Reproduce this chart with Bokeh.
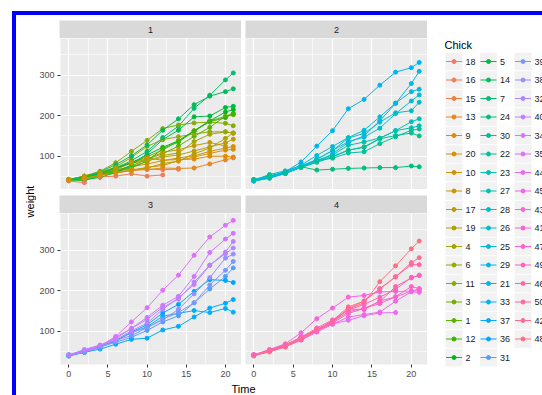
import math
from bokeh.plotting import figure
from bokeh.models import Range1d, LinearAxis, FixedTicker, Grid, Spacer, Div
from bokeh.layouts import row, column
from bokeh.embed import file_html
from bokeh.resources import INLINE
from bokeh.core.properties import value
from bokeh.core.validation import silence
from bokeh.core.validation.warnings import MISSING_RENDERERS

silence(MISSING_RENDERERS, True)

# ---------------- data (ChickWeight) ----------------
times = [0, 2, 4, 6, 8, 10, 12, 14, 16, 18, 20, 21]

diet1_chicks = list(range(1, 21))
diet1_weights = [
    [42, 51, 59, 64, 76, 93, 106, 125, 149, 171, 199, 205],
    [40, 49, 58, 72, 84, 103, 122, 138, 162, 187, 209, 215],
    [43, 39, 55, 67, 84, 99, 115, 138, 163, 187, 198, 202],
    [42, 49, 56, 67, 74, 87, 102, 108, 136, 154, 160, 157],
    [41, 42, 48, 60, 79, 106, 141, 164, 197, 199, 220, 223],
    [41, 49, 59, 74, 97, 124, 141, 148, 155, 160, 160, 157],
    [41, 49, 57, 71, 89, 112, 146, 174, 218, 250, 288, 305],
    [42, 50, 61, 71, 84, 93, 110, 116, 126, 134, 125],
    [42, 51, 59, 68, 85, 96, 90, 92, 93, 100, 100, 98],
    [41, 44, 52, 63, 74, 81, 89, 96, 101, 112, 120, 124],
    [43, 51, 63, 84, 112, 139, 168, 177, 182, 184, 181, 175],
    [41, 49, 56, 62, 72, 88, 119, 135, 162, 185, 195, 205],
    [41, 48, 53, 60, 65, 67, 71, 70, 71, 81, 91, 96],
    [41, 49, 62, 79, 101, 128, 164, 192, 227, 248, 259, 266],
    [41, 49, 56, 64, 68, 68, 67, 68],
    [41, 45, 49, 51, 57, 51, 54],
    [42, 51, 61, 72, 83, 89, 98, 103, 113, 123, 133, 142],
    [39, 35],
    [43, 48, 55, 62, 65, 71, 82, 88, 106, 120, 144, 157],
    [41, 47, 54, 58, 65, 73, 77, 89, 98, 107, 115, 117],
]

diet2_chicks = list(range(21, 31))
diet2_weights = [
    [40, 50, 62, 86, 125, 163, 217, 240, 275, 307, 318, 331],
    [41, 55, 64, 77, 90, 95, 108, 111, 131, 148, 164, 167],
    [43, 52, 61, 73, 90, 103, 127, 135, 145, 163, 170, 175],
    [42, 52, 58, 74, 66, 68, 70, 71, 72, 72, 76, 74],
    [40, 49, 62, 78, 102, 124, 146, 164, 197, 231, 259, 265],
    [42, 48, 57, 74, 93, 114, 136, 147, 169, 205, 236, 251],
    [39, 46, 58, 73, 87, 100, 115, 123, 144, 163, 185, 192],
    [39, 46, 58, 73, 92, 114, 145, 156, 184, 207, 212, 233],
    [39, 48, 59, 74, 87, 106, 134, 150, 187, 230, 279, 309],
    [42, 48, 59, 72, 85, 98, 115, 122, 143, 151, 157, 150],
]

diet3_chicks = list(range(31, 41))
diet3_weights = [
    [42, 53, 62, 73, 85, 102, 123, 138, 170, 204, 235, 256],
    [41, 49, 65, 82, 107, 129, 159, 179, 221, 263, 291, 305],
    [39, 50, 63, 77, 96, 111, 137, 144, 151, 146, 156, 147],
    [41, 49, 63, 85, 107, 134, 164, 186, 235, 294, 327, 341],
    [41, 53, 64, 87, 123, 158, 201, 238, 287, 332, 361, 373],
    [39, 48, 61, 76, 98, 116, 145, 166, 198, 227, 225, 220],
    [41, 48, 56, 68, 80, 83, 103, 112, 135, 157, 169, 178],
    [41, 49, 61, 74, 98, 109, 128, 154, 192, 232, 280, 290],
    [42, 50, 61, 78, 89, 109, 130, 146, 170, 214, 250, 272],
    [41, 55, 66, 79, 101, 120, 154, 182, 215, 262, 295, 321],
]

diet4_chicks = list(range(41, 51))
diet4_weights = [
    [42, 51, 66, 85, 103, 124, 155, 153, 175, 184, 199, 204],
    [42, 49, 63, 84, 103, 126, 160, 174, 204, 234, 269, 281],
    [42, 55, 69, 96, 131, 157, 184, 188, 197, 198, 199, 200],
    [42, 51, 65, 86, 103, 118, 127, 138, 145, 146],
    [41, 50, 61, 78, 98, 117, 135, 141, 147, 174, 197, 196],
    [40, 52, 62, 82, 101, 120, 144, 156, 173, 210, 231, 238],
    [41, 53, 66, 79, 100, 123, 148, 157, 168, 185, 210, 205],
    [39, 50, 62, 80, 104, 125, 154, 170, 222, 261, 303, 322],
    [40, 53, 64, 85, 108, 128, 152, 166, 184, 203, 233, 237],
    [41, 54, 67, 84, 105, 122, 155, 175, 205, 234, 264, 264],
]

chick_levels = [18, 16, 15, 13, 9, 20, 10, 8, 17, 19, 4, 6, 11, 3, 1, 12, 2,
                5, 14, 7, 24, 30, 22, 23, 27, 28, 26, 25, 29, 21, 33, 37, 36, 31,
                39, 38, 32, 40, 34, 35, 44, 45, 43, 41, 47, 49, 46, 50, 42, 48]

facet_labels = ["1", "2", "3", "4"]
x_ticks = [0, 5, 10, 15, 20]
y_ticks = [100, 200, 300]
x_title = "Time"
y_title = "weight"
legend_title = "Chick"

# ---------------- colours (ggplot2 hue palette) ----------------
def hcl_hex(h, c=100.0, l=65.0):
    wu, wv = 0.1978398, 0.4683363
    hr = math.radians(h)
    U = c * math.cos(hr)
    V = c * math.sin(hr)
    Y = 100.0 * (((l + 16) / 116) ** 3 if l > 7.999592 else l / 903.3)
    u = U / (13 * l) + wu
    v = V / (13 * l) + wv
    X = 9.0 * Y * u / (4 * v)
    Z = -X / 3 - 5 * Y + 3 * Y / v

    def g(t):
        return 1.055 * t ** (1 / 2.4) - 0.055 if t > 0.00304 else 12.92 * t

    r = g((3.240479 * X - 1.537150 * Y - 0.498535 * Z) / 100)
    gg = g((-0.969256 * X + 1.875992 * Y + 0.041556 * Z) / 100)
    b = g((0.055648 * X - 0.204043 * Y + 1.057311 * Z) / 100)
    return "#%02X%02X%02X" % tuple(int(255 * max(0.0, min(1.0, t)) + 0.5) for t in (r, gg, b))


n_lev = len(chick_levels)
color_of = {ch: hcl_hex(15 + 360.0 / n_lev * i) for i, ch in enumerate(chick_levels)}

FONT = "Liberation Sans"

# ---------------- scales ----------------
x_lo, x_hi = min(times), max(times)
all_w = [w for ws in (diet1_weights, diet2_weights, diet3_weights, diet4_weights) for r in ws for w in r]
y_lo, y_hi = min(all_w), max(all_w)
xe = (x_hi - x_lo) * 0.05
ye = (y_hi - y_lo) * 0.05


def minors(ticks):
    step = ticks[1] - ticks[0]
    return [t - step / 2 for t in ticks] + [ticks[-1] + step / 2]


PANEL_H = 151
AXIS_H = 18


def base_fig(width, height, **kw):
    mbl = kw.pop("mbl", 0)
    mbt = kw.pop("mbt", 0)
    mbb = kw.pop("mbb", 0)
    bfc = kw.pop("border_fill_color", "white")
    return figure(width=width, height=height, toolbar_location=None, output_backend="svg",
                  x_axis_type=None, y_axis_type=None, outline_line_color=None,
                  border_fill_color=bfc, min_border_left=mbl,
                  min_border_right=0, min_border_top=mbt,
                  min_border_bottom=mbb, **kw)


def style_axis(ax):
    ax.axis_line_color = None
    ax.major_tick_line_color = "#333333"
    ax.major_tick_line_width = 1
    ax.major_tick_in = 0
    ax.major_tick_out = 3
    ax.minor_tick_line_color = None
    ax.major_label_text_font = FONT
    ax.major_label_text_font_size = "9px"
    ax.major_label_text_color = "#4D4D4D"
    ax.major_label_standoff = 2


def make_panel(chicks, weights, left_axis, bottom_axis, width, mbl):
    height = PANEL_H + (AXIS_H if bottom_axis else 0)
    p = base_fig(width, height, mbl=mbl, mbb=(AXIS_H if bottom_axis else 0),
                 x_range=Range1d(x_lo - xe, x_hi + xe), y_range=Range1d(y_lo - ye, y_hi + ye),
                 background_fill_color="#EBEBEB")
    xt = FixedTicker(ticks=x_ticks, minor_ticks=minors(x_ticks))
    yt = FixedTicker(ticks=y_ticks, minor_ticks=minors(y_ticks))
    for dim, t in ((0, xt), (1, yt)):
        p.add_layout(Grid(dimension=dim, ticker=t, grid_line_color="white", grid_line_width=1.2,
                          minor_grid_line_color="white", minor_grid_line_width=0.6))
    if left_axis:
        ax = LinearAxis(ticker=yt)
        style_axis(ax)
        p.add_layout(ax, "left")
    if bottom_axis:
        ax = LinearAxis(ticker=xt)
        style_axis(ax)
        p.add_layout(ax, "below")
    order = sorted(range(len(chicks)), key=lambda i: chick_levels.index(chicks[i]))
    for i in order:
        w = weights[i]
        p.line(times[:len(w)], w, line_color=color_of[chicks[i]], line_width=1.0)
    for i in range(len(chicks)):
        w = weights[i]
        c = color_of[chicks[i]]
        p.scatter(times[:len(w)], w, size=4, fill_color=c, line_color=c)
    return p


def make_strip(label, width, mbl, mbt):
    s = base_fig(width, 18 + mbt, mbl=mbl, mbt=mbt, x_range=Range1d(0, 1), y_range=Range1d(0, 1),
                 background_fill_color="#D9D9D9")
    s.text(x=[0.5], y=[0.5], text=[label], text_align="center", text_baseline="middle",
           text_font=value(FONT), text_font_size="9px", text_color="#1A1A1A")
    return s


W1, W2 = 205, 186
MBL1, MBL2 = 23, 4

strip1 = make_strip(facet_labels[0], W1, MBL1, 5)
strip2 = make_strip(facet_labels[1], W2, MBL2, 5)
panel1 = make_panel(diet1_chicks, diet1_weights, True, False, W1, MBL1)
panel2 = make_panel(diet2_chicks, diet2_weights, False, False, W2, MBL2)
strip3 = make_strip(facet_labels[2], W1, MBL1, 6)
strip4 = make_strip(facet_labels[3], W2, MBL2, 6)
panel3 = make_panel(diet3_chicks, diet3_weights, True, True, W1, MBL1)
panel4 = make_panel(diet4_chicks, diet4_weights, False, True, W2, MBL2)

GW = W1 + W2
time_fig = base_fig(GW, 13, x_range=Range1d(0, GW), y_range=Range1d(0, 13),
                    background_fill_color="white")
time_fig.text(x=[MBL1 + (GW - MBL1 - MBL2) / 2.0 + MBL2 / 2.0], y=[6.5], text=[x_title],
              text_align="center", text_baseline="middle", text_font=value(FONT),
              text_font_size="11px", text_color="black")

grid_col = column(row(strip1, strip2), row(panel1, panel2), row(strip3, strip4),
                  row(panel3, panel4), time_fig)

TOTAL_H = 380
weight_fig = base_fig(20, TOTAL_H, x_range=Range1d(0, 20), y_range=Range1d(0, TOTAL_H),
                      background_fill_color="white")
weight_fig.text(x=[13], y=[TOTAL_H - 186], text=[y_title], angle=math.pi / 2,
                text_align="center", text_baseline="middle", text_font=value(FONT),
                text_font_size="11px", text_color="black")

# ---------------- legend ----------------
LW = 115
leg = base_fig(LW, TOTAL_H, x_range=Range1d(0, LW), y_range=Range1d(TOTAL_H, 0),
               background_fill_color="white")
leg.text(x=[17], y=[29], text=[legend_title], text_align="left", text_baseline="middle",
         text_font=value(FONT), text_font_size="11px", text_color="black")
per_col = 17
kx, ky, ll = [], [], []
kc = []
for i, ch in enumerate(chick_levels):
    col_i, row_i = divmod(i, per_col)
    kx.append(26.5 + 34.5 * col_i)
    ky.append(46 + 18.5 * row_i)
    ll.append(str(ch))
    kc.append(color_of[ch])
leg.rect(x=kx, y=ky, width=17, height=17.5, fill_color="#F2F2F2", line_color=None)
leg.segment(x0=[x - 8 for x in kx], y0=ky, x1=[x + 8 for x in kx], y1=ky, line_color=kc,
            line_width=1.0)
leg.scatter(x=kx, y=ky, size=4, fill_color=kc, line_color=kc)
leg.text(x=[x + 11.5 for x in kx], y=ky, text=ll, text_align="left", text_baseline="middle",
         text_font=value(FONT), text_font_size="9px", text_color="#1A1A1A")

main_row = row(weight_fig, grid_col, leg)

blue_top = Div(width=530, height=4, margin=(0, 0, 0, 0),
               styles={"background-color": "#0000FF"})
blue_left = Div(width=4, height=TOTAL_H, margin=(0, 0, 0, 0),
                styles={"background-color": "#0000FF"})

page = column(Spacer(width=542, height=11, margin=(0, 0, 0, 0)),
              row(Spacer(width=12, height=4, margin=(0, 0, 0, 0)), blue_top),
              row(Spacer(width=12, height=TOTAL_H, margin=(0, 0, 0, 0)), blue_left, main_row))

open("out.html", "w").write(file_html(page, INLINE))
